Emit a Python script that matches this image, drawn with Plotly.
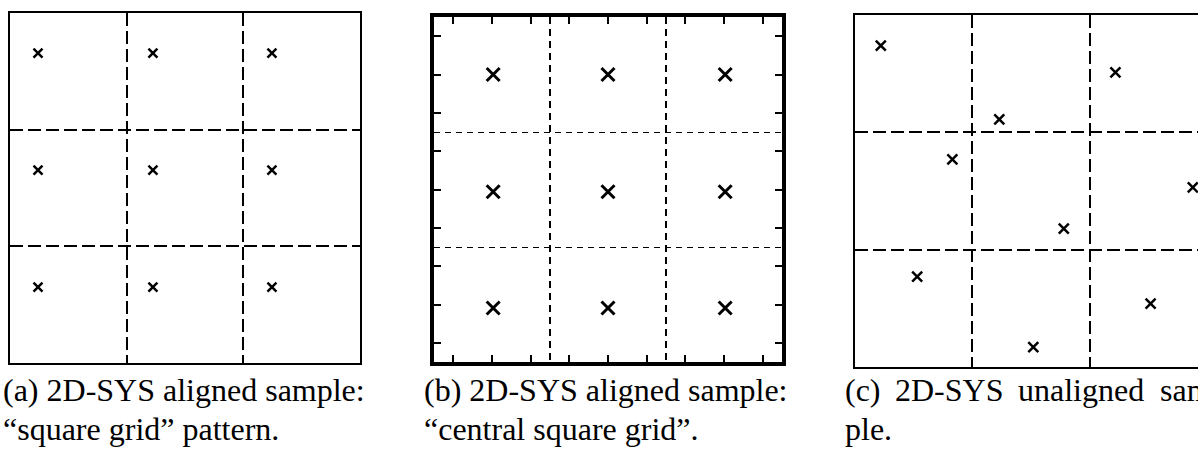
import plotly.graph_objects as go

W, H = 1198, 455

# ---------------- data (cell units, origin bottom-left of each square) -------------
a_x = [0.24, 1.225, 2.245, 0.24, 1.225, 2.245, 0.24, 1.225, 2.245]
a_y = [2.656, 2.656, 2.656, 1.654, 1.654, 1.654, 0.651, 0.651, 0.651]

b_x = [0.51, 1.50, 2.51, 0.51, 1.50, 2.51, 0.51, 1.50, 2.51]
b_y = [2.50, 2.50, 2.50, 1.48, 1.48, 1.48, 0.47, 0.47, 0.47]
b_ticks = [(k + 0.5) / 3 for k in range(9)]

c_x = [0.22, 2.22, 1.23, 0.83, 2.88, 1.78, 0.53, 2.52, 1.52]
c_y = [2.74, 2.51, 2.11, 1.77, 1.53, 1.18, 0.77, 0.54, 0.17]

grid_lines = [1, 2]

captions = [
    ("(a) 2D-SYS aligned sample:", 1, 390),
    ("\u201csquare grid\u201d pattern.", 1, 429),
    ("(b) 2D-SYS aligned sample:", 422, 390),
    ("\u201ccentral square grid\u201d.", 422, 429),
    ("(c)", 843, 390),
    ("2D-SYS", 893, 390),
    ("unaligned", 1016, 390),
    ("sam", 1158, 390),
    ("ple.", 843, 429),
]

fig = go.Figure()

def dom_x(l, r):
    return [max(0, l / W), min(1, r / W)]

def dom_y(top, bottom):
    return [1 - bottom / H, 1 - top / H]

common = dict(showticklabels=False, zeroline=False, linecolor="black",
              showline=True, fixedrange=True)

# panel a
fig.add_trace(go.Scatter(x=a_x, y=a_y, mode="markers", xaxis="x", yaxis="y",
                         marker=dict(symbol="x-thin", size=9,
                                     line=dict(width=2.5, color="black"))))
# panel b
fig.add_trace(go.Scatter(x=b_x, y=b_y, mode="markers", xaxis="x2", yaxis="y2",
                         marker=dict(symbol="x-thin", size=13,
                                     line=dict(width=3, color="black"))))
# panel c
fig.add_trace(go.Scatter(x=c_x, y=c_y, mode="markers", xaxis="x3", yaxis="y3",
                         cliponaxis=True,
                         marker=dict(symbol="x-thin", size=10,
                                     line=dict(width=2.5, color="black"))))

c_right = (W - 855) / 117.3

grid_a = dict(tickmode="array", tickvals=grid_lines, ticks="", showgrid=True,
              gridcolor="black", gridwidth=2, griddash="13px,5px")

fig.update_layout(
    width=W, height=H, margin=dict(l=0, r=0, t=0, b=0),
    paper_bgcolor="white", plot_bgcolor="white", showlegend=False,
    xaxis=dict(domain=dom_x(10, 360), range=[0, 3], linewidth=2, mirror=True,
               anchor="y", **grid_a, **common),
    yaxis=dict(domain=dom_y(13, 363), range=[0, 3], linewidth=2, mirror=True,
               anchor="x", **grid_a, **common),
    xaxis2=dict(domain=dom_x(434, 782), range=[0, 3], linewidth=4, mirror="ticks",
                anchor="y2",
                tickmode="array", tickvals=b_ticks, ticks="inside", ticklen=7,
                tickwidth=2, tickcolor="black", showgrid=False,
                minor=dict(tickmode="array", tickvals=grid_lines, showgrid=True,
                           gridcolor="black", gridwidth=2.2, griddash="7px,5px",
                           ticks=""),
                **common),
    yaxis2=dict(domain=dom_y(17, 362), range=[0, 3], linewidth=4, mirror="ticks",
                anchor="x2",
                tickmode="array", tickvals=b_ticks, ticks="inside", ticklen=7,
                tickwidth=2, tickcolor="black", showgrid=False,
                minor=dict(tickmode="array", tickvals=grid_lines, showgrid=True,
                           gridcolor="black", gridwidth=1.3, griddash="6px,5px",
                           ticks=""),
                **common),
    xaxis3=dict(domain=dom_x(855, W), range=[0, c_right], linewidth=2, mirror=True,
                anchor="y3", **grid_a, **common),
    yaxis3=dict(domain=dom_y(15, 367), range=[0, 3], linewidth=2, mirror=False,
                anchor="x3", **grid_a, **common),
)

for text, x, y in captions:
    fig.add_annotation(text=text, x=x / W, y=1 - y / H, xref="paper", yref="paper",
                       xanchor="left", yanchor="middle", showarrow=False,
                       font=dict(family="Liberation Serif", size=32, color="black"))

fig.write_html("out.html")
